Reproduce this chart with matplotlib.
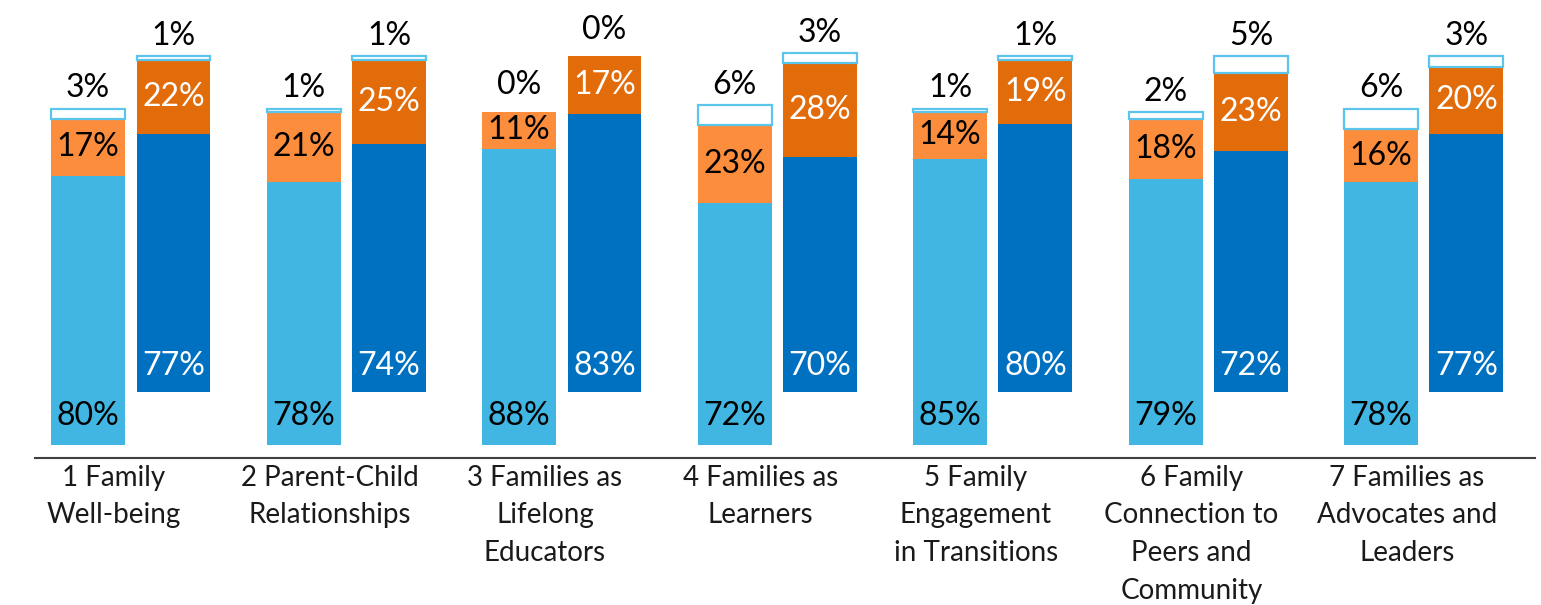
import matplotlib
matplotlib.use("Agg")
import matplotlib.pyplot as plt
import numpy as np

plt.rcParams['font.family'] = ['Lato', 'DejaVu Sans']

categories = ["1 Family\nWell-being", "2 Parent-Child\nRelationships",
              "3 Families as\nLifelong\nEducators", "4 Families as\nLearners",
              "5 Family\nEngagement\nin Transitions",
              "6 Family\nConnection to\nPeers and\nCommunity",
              "7 Families as\nAdvocates and\nLeaders"]

light_blue = [80, 78, 88, 72, 85, 79, 78]
light_orange = [17, 21, 11, 23, 14, 18, 16]
light_white = [3, 1, 0, 6, 1, 2, 6]
dark_blue = [77, 74, 83, 70, 80, 72, 77]
dark_orange = [22, 25, 17, 28, 19, 23, 20]
dark_white = [1, 1, 0, 3, 1, 5, 3]

C_LB = '#41B6E2'
C_LO = '#FB8D3D'
C_DB = '#0071C1'
C_DO = '#E26B0A'
C_EDGE = '#5BC5EC'

fig = plt.figure(figsize=(15.41, 6.05), dpi=100)
ax = fig.add_axes([0, 0, 1, 1])
ax.set_xlim(-0.529, 6.622)
ax.set_ylim(-43.75, 136.3)

x = np.arange(len(categories))
w = 0.343
xl = x - 0.12
xd = x + 0.276
base_l = 4.0
base_d = 19.5

lb = np.array(light_blue, float)
lo = np.array(light_orange, float)
lw = np.array(light_white, float)
db = np.array(dark_blue, float)
do = np.array(dark_orange, float)
dw = np.array(dark_white, float)

ax.bar(xl, lb, w, bottom=base_l, color=C_LB, edgecolor='none')
ax.bar(xl, lo, w, bottom=base_l + lb, color=C_LO, edgecolor='none')
ax.bar(xl, lw, w, bottom=base_l + lb + lo, color='white', edgecolor=C_EDGE,
       linewidth=[1.6 if v > 0 else 0 for v in light_white])

ax.bar(xd, db, w, bottom=base_d, color=C_DB, edgecolor='none')
ax.bar(xd, do, w, bottom=base_d + db, color=C_DO, edgecolor='none')
ax.bar(xd, dw, w, bottom=base_d + db + do, color='white', edgecolor=C_EDGE,
       linewidth=[1.6 if v > 0 else 0 for v in dark_white])

fs = 23
for i in range(len(categories)):
    ax.text(xl[i], base_l + 8.5, f"{light_blue[i]}%", ha='center', va='center', fontsize=fs, color='black')
    ax.text(xl[i], base_l + lb[i] + lo[i] / 2, f"{light_orange[i]}%", ha='center', va='center', fontsize=fs, color='black')
    ax.text(xl[i], base_l + lb[i] + lo[i] + lw[i] + (1.5 if lw[i] > 0 else 3.5), f"{light_white[i]}%", ha='center', va='bottom', fontsize=fs, color='black')
    ax.text(xd[i], base_d + 8.0, f"{dark_blue[i]}%", ha='center', va='center', fontsize=fs, color='white')
    ax.text(xd[i], base_d + db[i] + do[i] / 2, f"{dark_orange[i]}%", ha='center', va='center', fontsize=fs, color='white')
    ax.text(xd[i], base_d + db[i] + do[i] + dw[i] + (1.5 if dw[i] > 0 else 3.5), f"{dark_white[i]}%", ha='center', va='bottom', fontsize=fs, color='black')

for s in ['top', 'right', 'left']:
    ax.spines[s].set_visible(False)
ax.spines['bottom'].set_position(('data', 0))
ax.spines['bottom'].set_bounds(-0.367, 6.594)
ax.spines['bottom'].set_color('#404040')
ax.spines['bottom'].set_linewidth(1.5)
ax.set_yticks([])
ax.set_xticks(x)
ax.set_xticklabels(categories, fontsize=20, linespacing=1.55, color='#1a1a1a')
ax.tick_params(axis='x', length=0, pad=5)

fig.savefig('out.png', dpi=100)
